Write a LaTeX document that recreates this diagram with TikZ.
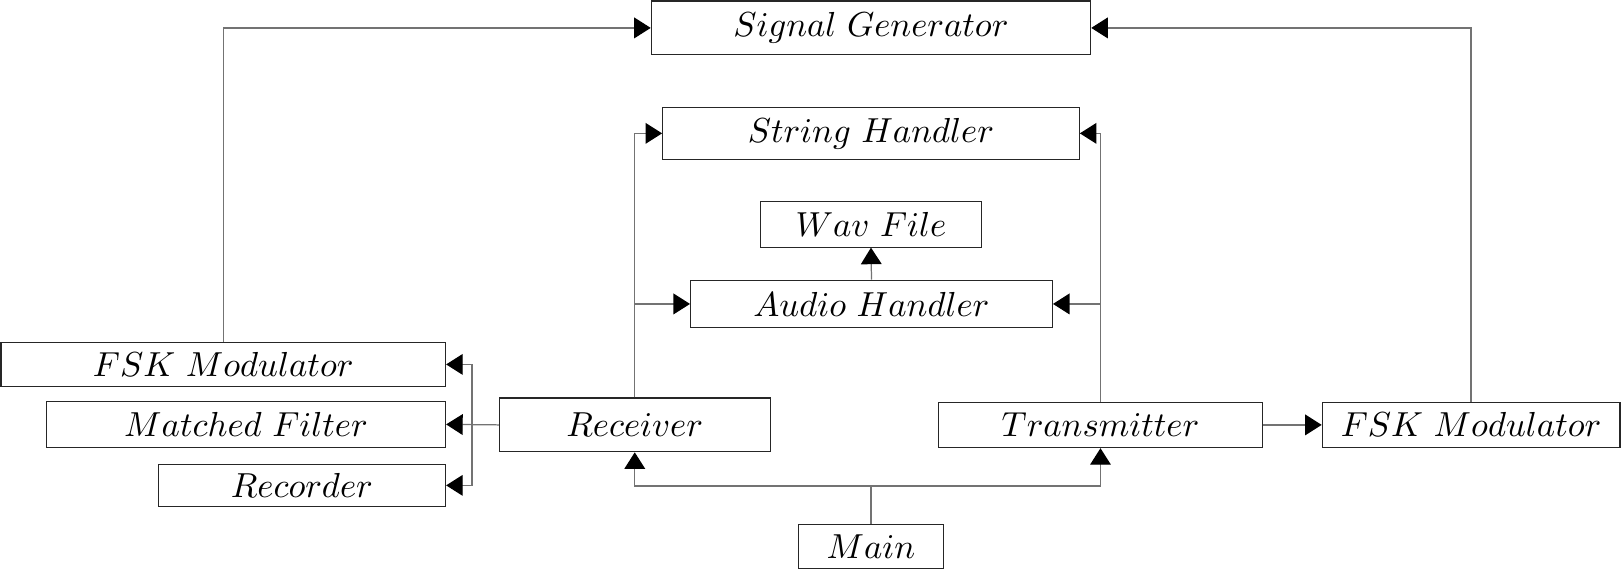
\documentclass[tikz,border=0pt]{standalone}
\usetikzlibrary{arrows.meta}
\DeclareFontShape{OML}{cmm}{m}{it}{<->cmmi10}{}
\begin{document}
\begin{tikzpicture}[x=0.5pt,y=-0.5pt,
  box/.style={draw=black!85,line width=0.55pt,rectangle,inner sep=0pt,
    font=\fontsize{16.8}{20}\selectfont},
  bw/.style={minimum width=#1*0.5pt},
  bh/.style={minimum height=#1*0.5pt},
  conn/.style={draw=black!55,line width=0.6pt},
  arr/.style={conn,-{Triangle[length=8pt,width=10pt,color=black]}}]
\useasboundingbox (0,0) rectangle (1568,551);
\node[box,bw=425,bh=52] (SG) at (842.5,27) {$Signal\ Generator$};
\node[box,bw=403,bh=50] (SH) at (842.5,129) {$String\ Handler$};
\node[box,bw=213,bh=44] (WF) at (842.5,217) {$Wav\ File$};
\node[box,bw=350,bh=46] (AH) at (843,294) {$Audio\ Handler$};
\node[box,bw=430,bh=43] (FL) at (216,352.5) {$FSK\ Modulator$};
\node[box,bw=386,bh=45] (MF) at (238,410.5) {$Matched\ Filter$};
\node[box,bw=278,bh=41] (RC) at (292,469.5) {$Recorder$};
\node[box,bw=262,bh=52] (RX) at (614,411) {$Receiver$};
\node[box,bw=313,bh=44] (TX) at (1064.5,411) {$Transmitter$};
\node[box,bw=288,bh=44] (FR) at (1423,411) {$FSK\ Modulator$};
\node[box,bw=141,bh=43] (MN) at (842.5,528.5) {$Main$};
\coordinate (rail) at (456.5,410.5);
\coordinate (mj) at (842.5,470);
% top links
\draw[arr] (FL.north) |- (SG.west);
\draw[arr] (FR.north) |- (SG.east);
% receiver / transmitter up
\draw[arr] (RX.north) |- (SH.west);
\draw[arr] (RX.north |- AH.west) -- (AH.west);
\draw[arr] (TX.north) |- (SH.east);
\draw[arr] (TX.north |- AH.east) -- (AH.east);
\draw[arr] (AH.north) -- (WF.south);
% receiver to left blocks
\draw[arr] (RX.west) -- (MF.east);
\draw[arr] (rail) |- (FL.east);
\draw[arr] (rail) |- (RC.east);
% transmitter to modulator
\draw[arr] (TX.east) -- (FR.west);
% main
\draw[conn] (MN.north) -- (mj);
\draw[arr] (mj) -| (RX.south);
\draw[arr] (mj) -| (TX.south);
\end{tikzpicture}
\end{document}
